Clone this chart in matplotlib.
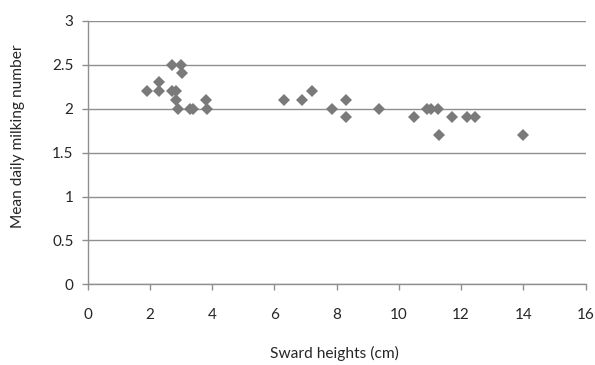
import matplotlib
matplotlib.use("Agg")
import matplotlib.pyplot as plt

plt.rcParams['font.family'] = ['Lato', 'DejaVu Sans']

# sward height (cm) vs mean daily milking number per farm
sward_height = [2.7, 3.0, 3.05, 2.3, 1.9, 2.3, 2.7, 2.85, 2.85, 2.9,
                3.3, 3.4, 3.8, 3.85,
                6.3, 6.9, 7.2, 7.85, 8.3, 8.3, 9.35, 10.5, 10.9, 11.05,
                11.25, 11.3, 11.7, 12.2, 12.45, 14.0]
milking_number = [2.5, 2.5, 2.4, 2.3, 2.2, 2.2, 2.2, 2.2, 2.1, 2.0,
                  2.0, 2.0, 2.1, 2.0,
                  2.1, 2.1, 2.2, 2.0, 2.1, 1.9, 2.0, 1.9, 2.0, 2.0,
                  2.0, 1.7, 1.9, 1.9, 1.9, 1.7]

x_ticks = [0, 2, 4, 6, 8, 10, 12, 14, 16]
y_ticks = [0, 0.5, 1, 1.5, 2, 2.5, 3]
y_ticklabels = ['0', '0.5', '1', '1.5', '2', '2.5', '3']

W, H = 595, 365
fig = plt.figure(figsize=(W / 100, H / 100), dpi=100)
ax = fig.add_axes([87.5 / W, 1 - 284.4 / H, (585.5 - 87.5) / W, (284.4 - 20.7) / H])

grid_col = '#8f8f8f'
ax.set_xlim(0, 16)
ax.set_ylim(0, 3)
ax.set_xticks(x_ticks)
ax.set_yticks(y_ticks)
ax.set_yticklabels(y_ticklabels)
ax.yaxis.grid(True, color=grid_col, linewidth=1.0)
ax.set_axisbelow(True)

for side in ['top', 'right']:
    ax.spines[side].set_visible(False)
for side in ['left', 'bottom']:
    ax.spines[side].set_color(grid_col)
    ax.spines[side].set_linewidth(1.0)

ax.tick_params(axis='x', direction='out', length=4, width=1, color=grid_col,
               pad=13, labelsize=11, labelcolor='#262626')
ax.tick_params(axis='y', direction='out', length=4, width=1, color=grid_col,
               pad=6, labelsize=11, labelcolor='#262626')

ax.plot(sward_height, milking_number, linestyle='none', marker='D',
        markersize=6, color='#7a7a7a', markeredgewidth=0, clip_on=False)

fig.text(334 / W, 1 - 353 / H, 'Sward heights (cm)', ha='center', va='center',
         fontsize=11.2, color='#262626')
fig.text(18 / W, 1 - 136 / H, 'Mean daily milking number', ha='center', va='center',
         rotation=90, fontsize=11.2, color='#262626')

fig.savefig('out.png', dpi=100)
